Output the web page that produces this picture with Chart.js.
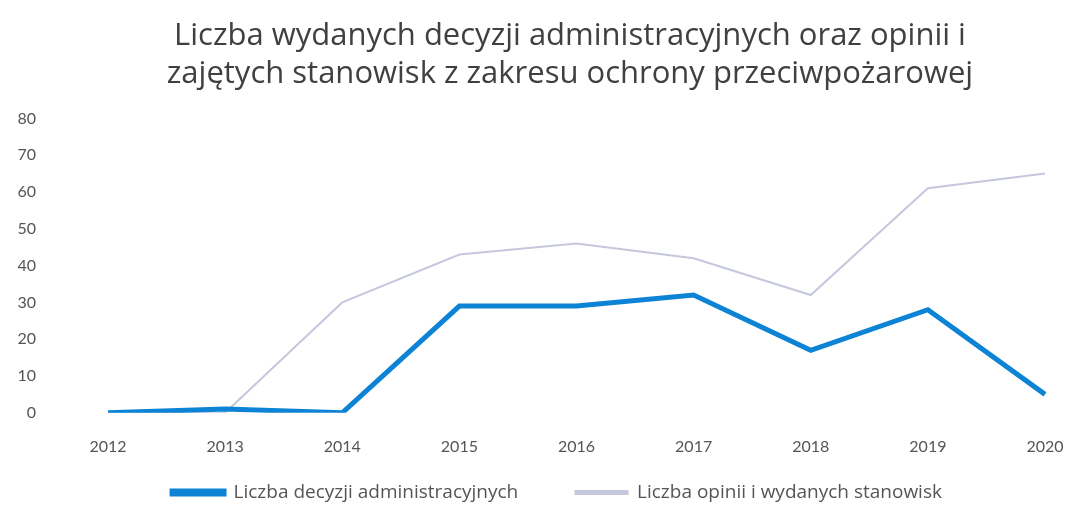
<!DOCTYPE html>
<html>
<head>
<meta charset="utf-8">
<script src="https://cdn.jsdelivr.net/npm/chart.js@4"></script>
<style>
  html, body { margin: 0; padding: 0; background: #fff; }
  #wrap { width: 1069px; height: 508px; }
</style>
</head>
<body>
<div id="wrap"><canvas id="chart"></canvas></div>
<script>
// Data
const years = ["2012", "2013", "2014", "2015", "2016", "2017", "2018", "2019", "2020"];
const decyzje = [0, 1, 0, 29, 29, 32, 17, 28, 5];
const opinie = [0, 0, 30, 43, 46, 42, 32, 61, 65];
const titleLines = [
    "Liczba wydanych decyzji administracyjnych oraz opinii i",
    "zajętych stanowisk z zakresu ochrony przeciwpożarowej"
];

const textFont = "'Open Sans', Lato, sans-serif";
const tickFont = "Lato, 'Open Sans', sans-serif";

// title and legend are not centred on the page in the original, move their boxes a bit
const shiftBlocks = {
    id: "shiftBlocks",
    afterLayout(chart) {
        const w = chart.width;
        if (chart.titleBlock) {
            chart.titleBlock.left = 71;
            chart.titleBlock.right = w;
            chart.titleBlock.width = w - 71;
        }
        if (chart.legend) {
            chart.legend.left = 45;
            chart.legend.right = w;
            chart.legend.width = w - 45;
        }
    },
};

const ctx = document.getElementById("chart").getContext("2d");
new Chart(ctx, {
    type: "line",
    data: {
        labels: years,
        datasets: [
            {
                label: "Liczba decyzji administracyjnych",
                data: decyzje,
                borderColor: "#0d83d5",
                backgroundColor: "#0d83d5",
                borderWidth: 5,
                pointRadius: 0,
                tension: 0,
            },
            {
                label: "Liczba opinii i wydanych stanowisk",
                data: opinie,
                borderColor: "#c5c8dc",
                backgroundColor: "#c5c8dc",
                borderWidth: 2,
                pointRadius: 0,
                tension: 0,
            },
        ],
    },
    plugins: [shiftBlocks],
    options: {
        responsive: true,
        maintainAspectRatio: false,
        animation: false,
        layout: { padding: { left: 0, right: 24, top: 8, bottom: -4 } },
        plugins: {
            title: {
                display: true,
                text: titleLines,
                color: "#404040",
                font: { family: textFont, size: 31, weight: "normal", lineHeight: 1.2 },
                padding: { top: 10, bottom: 26 },
            },
            legend: {
                position: "bottom",
                labels: {
                    color: "#555",
                    font: { family: textFont, size: 19 },
                    boxWidth: 52,
                    boxHeight: 3,
                    padding: 3,
                    generateLabels: (chart) => {
                        const items = Chart.defaults.plugins.legend.labels.generateLabels(chart);
                        // extra room between the two entries
                        items[0].text += "           ";
                        return items;
                    },
                },
            },
            tooltip: { enabled: false },
        },
        scales: {
            x: {
                offset: false,
                grid: { display: false, drawTicks: false },
                border: { display: false },
                afterFit: (scale) => { scale.paddingLeft = 0; scale.paddingRight = 0; },
                ticks: {
                    color: "#555",
                    font: { family: tickFont, size: 16 },
                    padding: 24,
                },
            },
            y: {
                min: 0,
                max: 80,
                grid: { display: false, drawTicks: false },
                border: { display: false },
                afterFit: (scale) => { scale.width = 108; },
                ticks: {
                    stepSize: 10,
                    color: "#555",
                    font: { family: tickFont, size: 16 },
                    padding: 72,
                },
            },
        },
    },
});
</script>
</body>
</html>
